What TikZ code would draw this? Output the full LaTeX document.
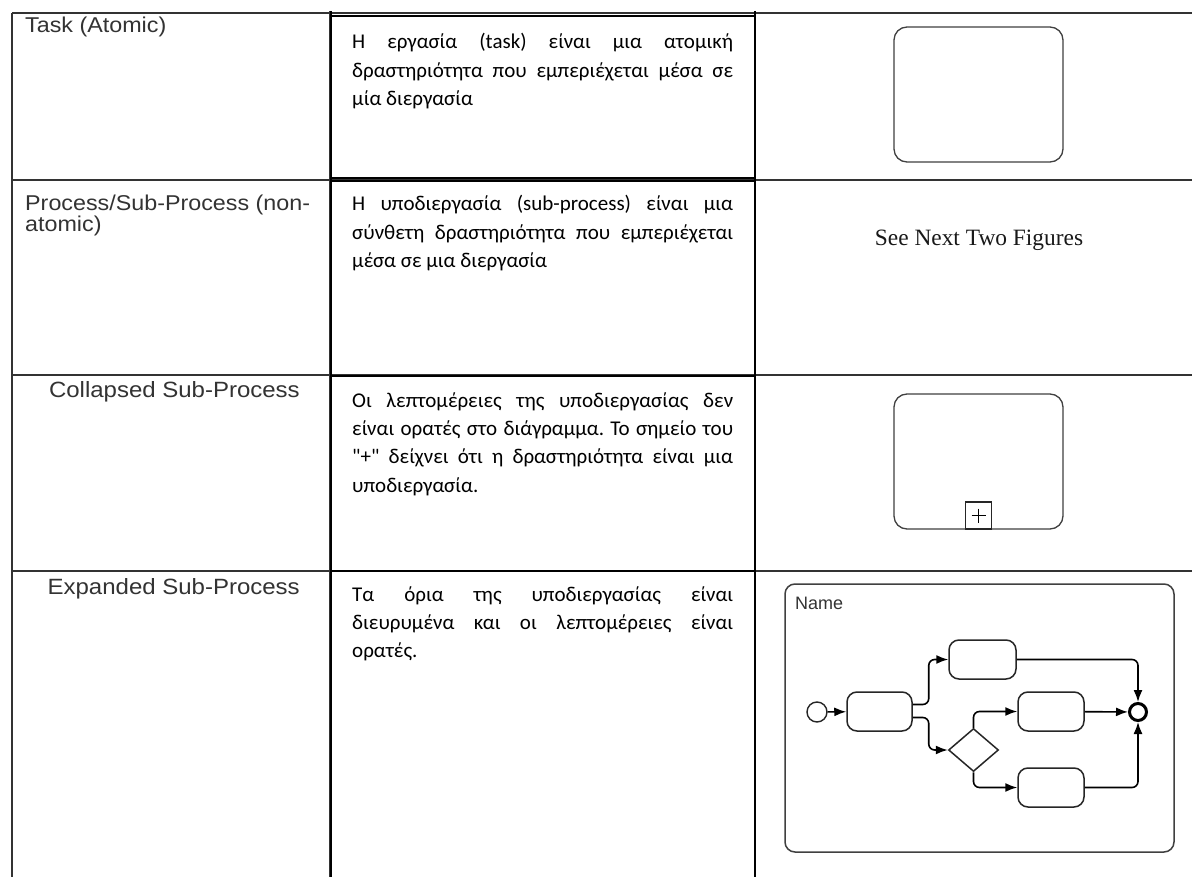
\documentclass[tikz,border=0pt]{standalone}
\usepackage{fontspec}
\newfontfamily\arialf{Liberation Sans}
\newfontfamily\carl{Carlito}
\newfontfamily\tnr{Liberation Serif}
\usetikzlibrary{arrows.meta,shapes.geometric,calc}
\newcommand{\squash}[1]{\scalebox{1}[0.92]{#1}}
\begin{document}
\begin{tikzpicture}[x=1pt,y=-1pt,
  gridline/.style={draw=black!80, line width=1.2pt},
  boxline/.style={draw=black, line width=2.6pt},
  lbl/.style={font=\arialf\fontsize{23.3}{20}\selectfont, text=black!80, inner sep=0},
  lblbig/.style={font=\arialf\fontsize{24}{20}\selectfont, text=black!80, inner sep=0},
  desc/.style={inner sep=0, anchor=base west},
  shapethree/.style={draw=black!75, line width=1.3pt, rounded corners=13pt, inner sep=0},
  act/.style={draw=black!85, line width=1.5pt, rounded corners=10pt, minimum height=39pt, inner sep=0},
  flow/.style={draw=black, line width=1.6pt, rounded corners=6pt, -{Latex[length=12pt,width=9pt]}},
]
\useasboundingbox (0,0) rectangle (1192,877);
\fill[white] (0,0) rectangle (1192,877);
% table grid
\draw[gridline] (12,13) -- (1192,13);
\draw[gridline] (12,180) -- (1192,180);
\draw[gridline] (12,375) -- (1192,375);
\draw[gridline] (12,571) -- (1192,571);
\draw[gridline] (12,13) -- (12,877);
\draw[gridline] (330,11) -- (330,877);
% column 2 boxes
\draw[boxline] (331,11) -- (331,877);
\draw[boxline] (755,11) -- (755,877);
\draw[boxline] (331,16) -- (755,16);
\draw[boxline] (331,178) -- (755,178);
\draw[boxline] (331,181) -- (755,181);
\draw[boxline] (331,376) -- (755,376);
\draw[boxline] (331,571) -- (755,571);
% column 1 labels
\node[lbl, anchor=base west] (l1) at (25,33) {\squash{Task (Atomic)}};
\node[lbl, anchor=base west] (l2a) at (25,211) {\squash{Process/Sub-Process (non-}};
\node[lbl, anchor=base west] (l2b) at (25,232) {\squash{atomic)}};
\node[lblbig, anchor=base east] (l3) at (300,398) {\squash{Collapsed Sub-Process}};
\node[lblbig, anchor=base east] (l4) at (300,594) {\squash{Expanded Sub-Process}};
% column 2 descriptions
\node[desc] (d1) at (352,49) {\parbox[t]{381pt}{\carl\fontsize{21}{28.4}\selectfont
Η εργασία (task) είναι μια ατομική\linebreak
δραστηριότητα που εμπεριέχεται μέσα σε\linebreak
μία διεργασία}};
\node[desc] (d2) at (352,211) {\parbox[t]{381pt}{\carl\fontsize{21}{28.4}\selectfont
Η υποδιεργασία (sub-process) είναι μια\linebreak
σύνθετη δραστηριότητα που εμπεριέχεται\linebreak
μέσα σε μια διεργασία}};
\node[desc] (d3) at (352,407) {\parbox[t]{381pt}{\carl\fontsize{21}{28.4}\selectfont
Οι λεπτομέρειες της υποδιεργασίας δεν\linebreak
είναι ορατές στο διάγραμμα.\ Το σημείο του\linebreak
"+" δείχνει ότι η δραστηριότητα είναι μια\linebreak
υποδιεργασία.}};
\node[desc] (d4) at (352,601) {\parbox[t]{381pt}{\carl\fontsize{21}{28.4}\selectfont
Τα όρια της υποδιεργασίας είναι\linebreak
διευρυμένα και οι λεπτομέρειες είναι\linebreak
ορατές.}};
% column 3
\node[shapethree, minimum width=169pt, minimum height=135pt] (task) at (978.5,94.5) {};
\node[font=\tnr\fontsize{23.4}{26}\selectfont, text=black!90, anchor=base, inner sep=0] (see) at (979,246) {See Next Two Figures};
\node[shapethree, minimum width=169pt, minimum height=135pt] (coll) at (978.5,461.5) {};
\node[draw=black!85, line width=1.3pt, minimum width=26pt, minimum height=27pt, inner sep=0, anchor=south] (plus) at (coll.south) {};
\draw[black, line width=1.1pt] ($(plus.center)+(-7,0)$) -- ($(plus.center)+(7,0)$);
\draw[black, line width=1.1pt] ($(plus.center)+(0,-7)$) -- ($(plus.center)+(0,7)$);
% expanded sub-process
\node[draw=black!75, line width=1.5pt, rounded corners=10pt, minimum width=389pt, minimum height=268pt, inner sep=0] (exp) at (979.5,718) {};
\node[font=\arialf\fontsize{18}{20}\selectfont, text=black!80, anchor=base west, inner sep=0] (name) at (795,609) {Name};
\node[circle, draw=black!85, line width=1.4pt, minimum size=20pt, inner sep=0] (start) at (817,712) {};
\node[act, minimum width=65pt] (A) at (879.5,711.5) {};
\node[act, minimum width=67pt] (B) at (982.5,659.5) {};
\node[act, minimum width=66pt] (C) at (1051,711.5) {};
\node[act, minimum width=66pt] (D) at (1051,787.5) {};
\node[diamond, draw=black!85, line width=1.5pt, minimum width=50pt, minimum height=43pt, inner sep=0] (G) at (973.5,750) {};
\node[circle, draw=black, line width=3pt, minimum size=17pt, inner sep=0] (E) at (1138,712) {};
\draw[flow] (start) -- (A);
\draw[flow] ($(A.east)+(0,-7)$) -- ($(A.east)+(16,-7)$) |- (B.west);
\draw[flow] ($(A.east)+(0,6)$) -- ($(A.east)+(16,6)$) |- (G.west);
\draw[flow] (G.north) |- (C.west);
\draw[flow] (G.south) |- (D.west);
\draw[flow] (B.east) -| (E.north);
\draw[flow] (C) -- (E);
\draw[flow] (D.east) -| (E.south);
\end{tikzpicture}
\end{document}
